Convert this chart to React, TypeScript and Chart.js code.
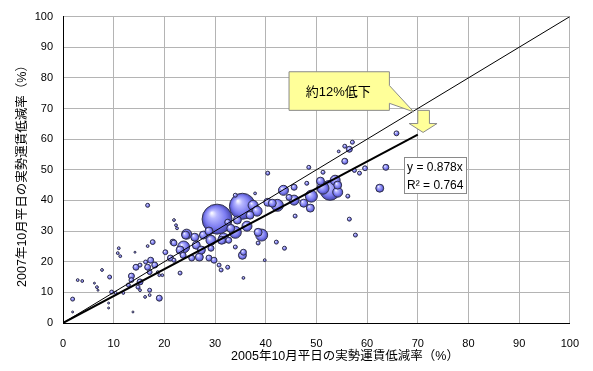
import React, { useEffect, useRef } from 'react';
import { Chart, registerables } from 'chart.js';

Chart.register(...registerables);

// ---- data ----
const X_TICK_VALUES = [0, 10, 20, 30, 40, 50, 60, 70, 80, 90, 100];
const Y_TICK_VALUES = [0, 10, 20, 30, 40, 50, 60, 70, 80, 90, 100];

const xValues = [
  30.4, 35.4, 52.7, 49.0, 43.5, 42.3, 53.7, 50.8, 54.2, 47.5,
  48.8, 62.5, 45.6, 48.5, 51.3, 55.6, 55.6, 56.5, 57.1, 54.4,
  57.5, 58.5, 59.6, 63.7, 65.8, 56.5, 57.7, 45.8, 56.2, 48.1,
  24.4, 23.8, 26.0, 27.7, 28.8, 32.5, 34.0, 34.4, 37.5, 38.3,
  39.2, 35.4, 40.4, 41.3, 34.0, 37.9, 40.4, 21.9, 22.5, 21.7,
  21.2, 23.1, 26.9, 28.8, 29.8, 30.8, 32.5, 31.2, 34.0, 35.6,
  38.5, 38.5, 42.1, 43.7, 39.8, 35.6, 16.7, 22.3, 17.7, 16.7,
  14.2, 11.0, 10.8, 11.3, 7.7, 9.2, 2.9, 3.8, 6.2, 6.7,
  6.9, 9.6, 10.4, 11.9, 12.9, 13.5, 13.5, 15.2, 14.8, 15.2,
  14.4, 15.2, 16.3, 16.7, 17.1, 17.3, 18.1, 18.7, 19.0, 19.6,
  16.2, 17.1, 17.1, 19.0, 13.8, 9.0, 9.0, 1.9, 1.9, 20.2,
  21.9, 21.9, 23.1, 23.7, 24.2, 29.2, 26.3, 31.7, 33.1, 36.3,
  36.9, 45.6, 44.6, 51.3, 54.2, 27.3, 25.4, 29.2, 31.3, 32.7,
];

const yValues = [
  33.9, 38.1, 43.3, 41.4, 43.3, 38.4, 46.6, 46.3, 42.7, 39.1,
  37.5, 44.0, 44.3, 50.8, 49.2, 52.8, 57.7, 56.7, 59.0, 56.0,
  49.8, 48.9, 50.5, 50.8, 61.9, 33.9, 28.7, 34.9, 41.4, 45.6,
  29.0, 24.8, 28.0, 28.7, 30.0, 32.9, 29.6, 33.6, 38.4, 36.5,
  28.7, 22.1, 39.4, 39.1, 41.7, 42.3, 48.9, 33.6, 30.9, 26.4,
  21.2, 23.8, 21.5, 21.2, 20.5, 18.9, 18.2, 17.3, 24.8, 23.1,
  29.6, 26.1, 26.4, 24.4, 20.5, 14.7, 38.4, 31.9, 26.4, 25.1,
  23.1, 24.4, 22.8, 21.8, 17.3, 15.0, 14.0, 13.7, 13.0, 11.7,
  10.7, 10.1, 9.8, 9.8, 12.4, 14.0, 15.3, 13.4, 11.7, 10.7,
  18.2, 18.9, 19.9, 18.2, 16.6, 20.5, 18.9, 16.6, 15.6, 15.6,
  8.5, 10.7, 9.1, 8.1, 3.6, 4.9, 6.5, 7.8, 3.6, 23.1,
  26.1, 20.5, 16.3, 22.1, 28.7, 27.0, 25.4, 27.7, 30.9, 31.6,
  35.2, 40.1, 41.0, 44.0, 45.0, 23.8, 21.2, 24.4, 27.0, 27.0,
];

// bubble weights (bubble area)
const weights = [
  225, 169, 100, 36, 25, 36, 25, 16, 25, 16,
  16, 16, 9, 4, 4, 9, 4, 9, 4, 2,
  4, 4, 6, 9, 6, 4, 4, 4, 4, 4,
  25, 36, 16, 16, 16, 9, 36, 16, 25, 25,
  36, 16, 16, 16, 4, 2, 4, 2, 2, 9,
  9, 16, 16, 9, 9, 4, 4, 4, 4, 9,
  16, 4, 4, 4, 2, 2, 4, 2, 6, 2,
  1, 2, 2, 2, 2, 4, 2, 2, 1, 2,
  1, 4, 2, 2, 4, 6, 9, 9, 4, 2,
  9, 4, 4, 9, 6, 9, 9, 2, 2, 2,
  2, 4, 2, 9, 1, 1, 1, 4, 1, 6,
  9, 4, 4, 9, 16, 25, 16, 25, 16, 25,
  16, 25, 9, 36, 16, 16, 9, 9, 16, 9,
];

const SLOPE = 0.878;
const R_SQUARED = 0.764;
const FIT_END_X = 70;
const DIAG_END = 100;

const X_TITLE = '2005年10月平日の実勢運賃低減率（%）';
const Y_TITLE = '2007年10月平日の実勢運賃低減率（%）';
const CALLOUT_TEXT = '約12%低下';
const EQ_LINES = [`y = ${SLOPE}x`, `R² = ${R_SQUARED}`];

// annotation anchors (data coordinates)
const CALLOUT_BOX = { x0: 44.6, x1: 64.4, y0: 69.4, y1: 82 };
const CALLOUT_TAIL = { yA: 77.5, yB: 71.7, tipX: 69.2, tipY: 68.9 };
const ARROW = { x0: 68.3, x1: 73.8, s0: 70.0, s1: 72.3, top: 69.4, neck: 65.1, tip: 62.2 };
const EQ_BOX = { x0: 67.3, x1: 79.6, y0: 42.3, y1: 54.1 };

const FONT_LATIN = '"Liberation Sans", Arial, "Noto Sans CJK JP", sans-serif';
const FONT_JP = '"Liberation Sans", "Noto Sans CJK JP", sans-serif';

export default function App() {
  const ref = useRef<HTMLCanvasElement | null>(null);

  useEffect(() => {
    document.body.style.margin = '0';
    document.body.style.overflow = 'hidden';
    document.documentElement.style.overflow = 'hidden';
    const canvas = ref.current;
    if (!canvas) return;

    const order = xValues.map((_, i) => i).sort((a, b) => weights[b] - weights[a]);
    const bubbles = order.map((i) => ({ x: xValues[i], y: yValues[i], r: Math.sqrt(weights[i]) }));

    const bubbleFill = (c: any) => {
      const fallback = '#8484f4';
      if (c.type !== 'data') return fallback;
      const chart = c.chart;
      const sx = chart.scales && chart.scales.x;
      const sy = chart.scales && chart.scales.y;
      const raw = c.raw;
      if (!sx || !sy || !raw) return fallback;
      const cx = sx.getPixelForValue(raw.x);
      const cy = sy.getPixelForValue(raw.y);
      const r = Math.max(raw.r, 0.5);
      if (!Number.isFinite(cx) || !Number.isFinite(cy) || !Number.isFinite(r)) return fallback;
      const g = chart.ctx.createRadialGradient(cx - r * 0.35, cy - r * 0.4, r * 0.05, cx, cy, r * 1.05);
      g.addColorStop(0, '#f4f4ff');
      g.addColorStop(0.22, '#b8b8ff');
      g.addColorStop(0.65, '#7b7bf0');
      g.addColorStop(1, '#3e3ea8');
      return g;
    };

    const annotations = {
      id: 'annotations',
      afterDatasetsDraw(chart: any) {
        const { ctx } = chart;
        const sx = chart.scales.x;
        const sy = chart.scales.y;
        const px = (v: number) => sx.getPixelForValue(v);
        const py = (v: number) => sy.getPixelForValue(v);
        ctx.save();

        // callout
        const L = px(CALLOUT_BOX.x0), R = px(CALLOUT_BOX.x1);
        const T = py(CALLOUT_BOX.y1), B = py(CALLOUT_BOX.y0);
        ctx.beginPath();
        ctx.moveTo(L, T);
        ctx.lineTo(R, T);
        ctx.lineTo(R, py(CALLOUT_TAIL.yA));
        ctx.lineTo(px(CALLOUT_TAIL.tipX), py(CALLOUT_TAIL.tipY));
        ctx.lineTo(R, py(CALLOUT_TAIL.yB));
        ctx.lineTo(R, B);
        ctx.lineTo(L, B);
        ctx.closePath();
        ctx.fillStyle = '#ffff99';
        ctx.fill();
        ctx.strokeStyle = '#8a8a8a';
        ctx.lineWidth = 1;
        ctx.stroke();
        ctx.fillStyle = '#000';
        ctx.font = `13px ${FONT_JP}`;
        ctx.textAlign = 'center';
        ctx.textBaseline = 'middle';
        ctx.fillText(CALLOUT_TEXT, (L + R) / 2 - 1, (T + B) / 2 + 1);

        // down arrow
        ctx.beginPath();
        ctx.moveTo(px(ARROW.s0), py(ARROW.top));
        ctx.lineTo(px(ARROW.s1), py(ARROW.top));
        ctx.lineTo(px(ARROW.s1), py(ARROW.neck));
        ctx.lineTo(px(ARROW.x1), py(ARROW.neck));
        ctx.lineTo(px((ARROW.x0 + ARROW.x1) / 2), py(ARROW.tip));
        ctx.lineTo(px(ARROW.x0), py(ARROW.neck));
        ctx.lineTo(px(ARROW.s0), py(ARROW.neck));
        ctx.closePath();
        ctx.fillStyle = '#ffff99';
        ctx.fill();
        ctx.strokeStyle = '#8a8a8a';
        ctx.stroke();

        // equation box
        const eL = px(EQ_BOX.x0), eR = px(EQ_BOX.x1);
        const eT = py(EQ_BOX.y1), eB = py(EQ_BOX.y0);
        ctx.fillStyle = '#ffffff';
        ctx.fillRect(eL, eT, eR - eL, eB - eT);
        ctx.strokeStyle = '#8a8a8a';
        ctx.strokeRect(Math.round(eL) + 0.5, Math.round(eT) + 0.5, Math.round(eR - eL), Math.round(eB - eT));
        ctx.fillStyle = '#000';
        ctx.font = `12px ${FONT_LATIN}`;
        ctx.textAlign = 'left';
        ctx.textBaseline = 'middle';
        const lh = (eB - eT) / 2;
        EQ_LINES.forEach((t, i) => ctx.fillText(t, eL + 3, eT + lh * (i + 0.5) + 1));

        // axis titles
        ctx.font = `12.5px ${FONT_JP}`;
        ctx.textAlign = 'center';
        ctx.textBaseline = 'middle';
        ctx.fillText(X_TITLE, 345, 357);
        ctx.translate(23, 173);
        ctx.rotate(-Math.PI / 2);
        ctx.fillText(Y_TITLE, 0, 0);
        ctx.restore();
      },
    };

    const chart = new Chart(canvas, {
      type: 'bubble',
      data: {
        datasets: [
          {
            type: 'line',
            data: [{ x: 0, y: 0 }, { x: DIAG_END, y: DIAG_END }],
            borderColor: '#000',
            borderWidth: 1,
            pointRadius: 0,
            fill: false,
            order: 0,
          } as any,
          {
            type: 'line',
            data: [{ x: 0, y: 0 }, { x: FIT_END_X, y: SLOPE * FIT_END_X }],
            borderColor: '#000',
            borderWidth: 2,
            pointRadius: 0,
            fill: false,
            order: 0,
          } as any,
          {
            type: 'bubble',
            data: bubbles,
            backgroundColor: bubbleFill,
            borderColor: '#33334d',
            borderWidth: 1,
            order: 1,
          } as any,
        ],
      },
      options: {
        animation: false,
        responsive: false,
        maintainAspectRatio: false,
        devicePixelRatio: 1,
        events: [],
        layout: { autoPadding: false, padding: { top: 16, right: -2, left: 0, bottom: 0 } },
        plugins: { legend: { display: false }, tooltip: { enabled: false } },
        scales: {
          x: {
            type: 'linear',
            min: 0,
            max: 100,
            afterFit: (s: any) => { s.height = 48; },
            afterBuildTicks: (s: any) => { s.ticks = X_TICK_VALUES.map((v) => ({ value: v })); },
            grid: { color: '#b4b4b4', lineWidth: 1, drawTicks: false },
            border: { color: '#000', width: 1 },
            ticks: { color: '#000', padding: 14, maxRotation: 0, font: { size: 11, family: FONT_LATIN } },
          },
          y: {
            type: 'linear',
            min: 0,
            max: 100,
            afterFit: (s: any) => { s.width = 63; },
            afterBuildTicks: (s: any) => { s.ticks = Y_TICK_VALUES.map((v) => ({ value: v })); },
            grid: { color: '#b4b4b4', lineWidth: 1, drawTicks: false },
            border: { color: '#000', width: 1 },
            ticks: { color: '#000', padding: 10, font: { size: 11, family: FONT_LATIN } },
          },
        },
      } as any,
      plugins: [annotations],
    });

    return () => chart.destroy();
  }, []);

  return (
    <div style={{ width: 593, height: 371, overflow: 'hidden' }}>
      <canvas ref={ref} width={593} height={371} style={{ display: 'block', width: 593, height: 371 }} />
    </div>
  );
}
